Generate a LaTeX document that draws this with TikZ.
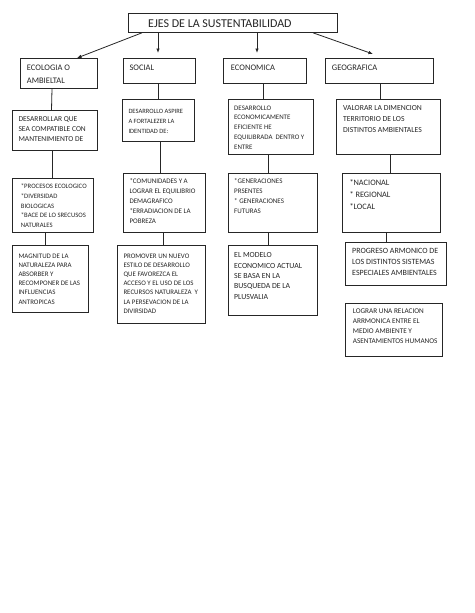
\documentclass[tikz,border=0pt]{standalone}
\usepackage{fontspec}
\setmainfont{Carlito}
\usetikzlibrary{arrows.meta,calc}
\newcommand\fsz[2]{\fontsize{#1}{#2}\selectfont}
\begin{document}
\begin{tikzpicture}[x=1pt,y=-1pt,
  box/.style={draw=black!85, line width=0.8pt, inner sep=0pt, anchor=north west},
  txt/.style={anchor=north west, inner sep=0pt, align=left, text=black!85},
  link/.style={draw=black!85, line width=0.8pt},
  arr/.style={link, -{Latex[length=4.5pt,width=3.5pt]}}]
\useasboundingbox[fill=white] (0,0) rectangle (474,613);
% boxes
\node[box, minimum width=209pt, minimum height=19pt] (title) at (128,13) {};
\node[box, minimum width=77pt, minimum height=30pt] (eco) at (20,58) {};
\node[box, minimum width=72pt, minimum height=25pt] (soc) at (123,58) {};
\node[box, minimum width=83pt, minimum height=25pt] (econ) at (223,58) {};
\node[box, minimum width=108pt, minimum height=25pt] (geo) at (325,58) {};
\node[box, minimum width=85pt, minimum height=40pt] (eco2) at (12,110) {};
\node[box, minimum width=72pt, minimum height=42pt] (soc2) at (122,99) {};
\node[box, minimum width=85pt, minimum height=55pt] (econ2) at (228,99) {};
\node[box, minimum width=104pt, minimum height=55pt] (geo2) at (336,99) {};
\node[box, minimum width=81pt, minimum height=54pt] (eco3) at (12,178) {};
\node[box, minimum width=82pt, minimum height=59pt] (soc3) at (123,173) {};
\node[box, minimum width=89pt, minimum height=59pt] (econ3) at (228,173) {};
\node[box, minimum width=98pt, minimum height=59pt] (geo3) at (342,173) {};
\node[box, minimum width=76pt, minimum height=67pt] (eco4) at (12,245) {};
\node[box, minimum width=88pt, minimum height=78pt] (soc4) at (117,245) {};
\node[box, minimum width=89pt, minimum height=70pt] (econ4) at (228,245) {};
\node[box, minimum width=101pt, minimum height=43pt] (geo4) at (345,242) {};
\node[box, minimum width=97pt, minimum height=53pt] (geo5) at (345,303) {};
% texts
\node[txt, font=\fsz{12}{14}] (titlet) at ($(title.north west)+(20,7)$) {EJES DE LA SUSTENTABILIDAD};
\node[txt, font=\fsz{8.5}{13}] (ecot) at ($(eco.north west)+(6.7,6.3)$) {ECOLOGIA O\\AMBIELTAL};
\node[txt, font=\fsz{8.5}{13}] (soct) at ($(soc.north west)+(6.3,6.3)$) {SOCIAL};
\node[txt, font=\fsz{8.5}{13}] (econt) at ($(econ.north west)+(7.7,6.3)$) {ECONOMICA};
\node[txt, font=\fsz{8.5}{13}] (geot) at ($(geo.north west)+(6.7,6.3)$) {GEOGRAFICA};
\node[txt, font=\fsz{7.5}{10}] (eco2t) at ($(eco2.north west)+(6.3,6.6)$) {DESARROLLAR QUE\\SEA COMPATIBLE CON\\MANTENIMIENTO DE};
\node[txt, font=\fsz{6.5}{10}] (soc2t) at ($(soc2.north west)+(6.3,10)$) {DESARROLLO ASPIRE\\A FORTALEZER LA\\IDENTIDAD DE:};
\node[txt, font=\fsz{6.9}{9.75}] (econ2t) at ($(econ2.north west)+(6,6.5)$) {DESARROLLO\\ECONOMICAMENTE\\EFICIENTE HE\\EQUILIBRADA\ \ DENTRO Y\\ENTRE};
\node[txt, font=\fsz{7.7}{10.7}] (geo2t) at ($(geo2.north west)+(7,6.8)$) {VALORAR LA DIMENCION\\TERRITORIO DE LOS\\DISTINTOS AMBIENTALES};
\node[txt, font=\fsz{6.7}{9.8}] (eco3t) at ($(eco3.north west)+(8.7,5.5)$) {*PROCESOS ECOLOGICO\\*DIVERSIDAD\\BIOLOGICAS\\*BACE DE LO SRECUSOS\\NATURALES};
\node[txt, font=\fsz{7}{10}] (soc3t) at ($(soc3.north west)+(6.3,5.8)$) {*COMUNIDADES Y A\\LOGRAR EL EQUILIBRIO\\DEMAGRAFICO\\*ERRADIACION DE LA\\POBREZA};
\node[txt, font=\fsz{7}{9.7}] (econ3t) at ($(econ3.north west)+(6,5.8)$) {*GENERACIONES\\PRSENTES\\* GENERACIONES\\FUTURAS};
\node[txt, font=\fsz{8.3}{11.7}] (geo3t) at ($(geo3.north west)+(7.3,6.6)$) {*NACIONAL\\* REGIONAL\\*LOCAL};
\node[txt, font=\fsz{6.9}{9.2}] (eco4t) at ($(eco4.north west)+(6.3,8.5)$) {MAGNITUD DE LA\\NATURALEZA PARA\\ABSORBER Y\\RECOMPONER DE LAS\\INFLUENCIAS\\ANTROPICAS};
\node[txt, font=\fsz{6.9}{9.2}] (soc4t) at ($(soc4.north west)+(6.3,8.5)$) {PROMOVER UN NUEVO\\ESTILO DE DESARROLLO\\QUE FAVOREZCA EL\\ACCESO Y EL USO DE LOS\\RECURSOS NATURALEZA\ \ Y\\LA PERSEVACION DE LA\\DIVIRSIDAD};
\node[txt, font=\fsz{7.8}{10.4}] (econ4t) at ($(econ4.north west)+(6,7.5)$) {EL MODELO\\ECONOMICO ACTUAL\\SE BASA EN LA\\BUSQUEDA DE LA\\PLUSVALIA};
\node[txt, font=\fsz{8}{10.8}] (geo4t) at ($(geo4.north west)+(7,6.1)$) {PROGRESO ARMONICO DE\\LOS DISTINTOS SISTEMAS\\ESPECIALES AMBIENTALES};
\node[txt, font=\fsz{7.25}{10}] (geo5t) at ($(geo5.north west)+(7.7,5.4)$) {LOGRAR UNA RELACION\\ARRMONICA ENTRE EL\\MEDIO AMBIENTE Y\\ASENTAMIENTOS HUMANOS};
% arrows from title
\draw[arr] ($(title.south west)+(14,0)$) -- ($(eco.north west)+(57,0)$);
\draw[arr] ($(title.south west)+(30,0)$) -- ($(soc.north west)+(35,-5)$);
\draw[arr] ($(title.south west)+(129,0)$) -- ($(econ.north west)+(34,-5)$);
\draw[arr] ($(title.south west)+(185,0)$) -- ($(geo.north west)+(48,-4)$);
% vertical links
\draw[link] ($(eco.south west)+(32,0)$) -- ($(eco2.north west)+(39.5,0)$);
\draw[link] ($(soc.south west)+(35,0)$) -- ($(soc2.north west)+(36,0)$);
\draw[link] ($(econ.south west)+(40,0)$) -- ($(econ2.north west)+(35,0)$);
\draw[link] ($(geo.south west)+(55.5,0)$) -- ($(geo2.north west)+(44.5,0)$);
\draw[link] ($(eco2.south west)+(40,0)$) -- ($(eco3.north west)+(40,0)$);
\draw[link] ($(soc2.south west)+(38,0)$) -- ($(soc3.north west)+(37,0)$);
\draw[link] ($(econ2.south west)+(40,0)$) -- ($(econ3.north west)+(40,0)$);
\draw[link] ($(geo2.south west)+(54,0)$) -- ($(geo3.north west)+(48,0)$);
\draw[link] ($(eco3.south west)+(33,0)$) -- ($(eco4.north west)+(33,0)$);
\draw[link] ($(soc3.south west)+(40,0)$) -- ($(soc4.north west)+(46,0)$);
\draw[link] ($(econ3.south west)+(40,0)$) -- ($(econ4.north west)+(40,0)$);
\draw[link] ($(geo3.south west)+(44,0)$) -- ($(geo4.north west)+(41,0)$);
\end{tikzpicture}
\end{document}
